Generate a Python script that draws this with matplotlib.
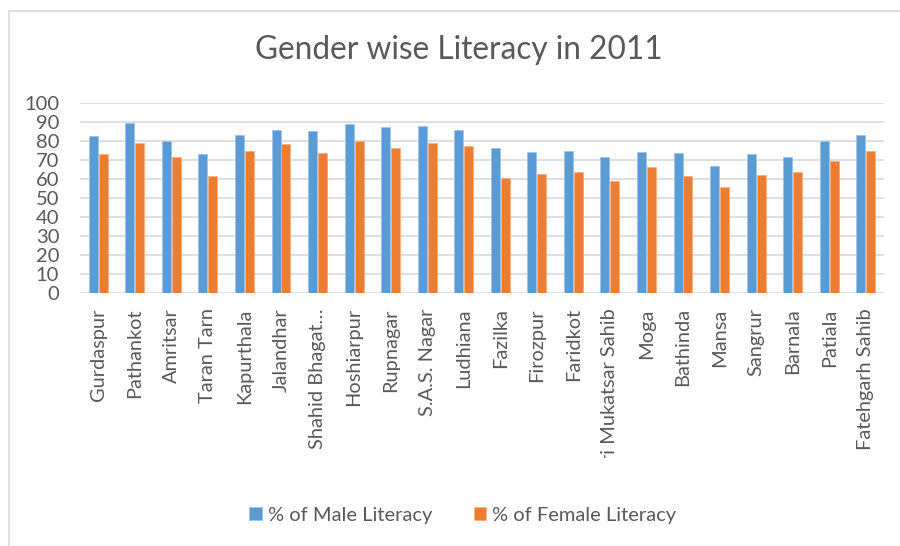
import matplotlib

matplotlib.use("Agg")

import matplotlib.pyplot as plt
import numpy as np
from matplotlib.patches import Rectangle
from matplotlib.transforms import Bbox, TransformedBbox

# Values
districts = ["Gurdaspur", "Pathankot", "Amritsar", "Taran Tarn", "Kapurthala",
             "Jalandhar", "Shahid Bhagat…", "Hoshiarpur", "Rupnagar", "S.A.S. Nagar",
             "Ludhiana", "Fazilka", "Firozpur", "Faridkot", "Sri Mukatsar Sahib",
             "Moga", "Bathinda", "Mansa", "Sangrur", "Barnala", "Patiala",
             "Fatehgarh Sahib"]
male = [82.4, 89.3, 80.1, 73.1, 83.1, 85.9, 85.4, 88.7, 87.5, 87.9, 85.9,
        76.2, 74.3, 74.6, 71.7, 74.3, 73.8, 67.1, 73.1, 71.5, 80.1, 83.1]
female = [72.9, 79.2, 71.8, 61.6, 74.6, 78.5, 73.8, 80.1, 76.4, 79.2, 77.6,
          60.6, 62.5, 63.7, 59.2, 66.4, 61.6, 55.6, 62.0, 63.6, 69.5, 74.6]

plt.rcParams['font.family'] = ['Lato', 'DejaVu Sans']
txt = '#595959'
grid = '#D9D9D9'

fig = plt.figure(figsize=(9, 5.46), dpi=100)
ax = fig.add_axes([80 / 900, 1 - 293 / 546, 804 / 900, 190 / 546])

x = np.arange(len(districts))
w = 0.245
ax.bar(x - 0.135, male, w, color='#5B9BD5', edgecolor='#9DC3E6', linewidth=0.6,
       label='% of Male Literacy', zorder=3)
ax.bar(x + 0.135, female, w, color='#ED7D31', edgecolor='#F4B183', linewidth=0.6,
       label='% of Female Literacy', zorder=3)

ax.set_xlim(-0.5, len(districts) - 0.5)
ax.set_ylim(0, 100)
ax.set_yticks(np.arange(0, 101, 10))
ax.grid(axis='y', color=grid, linewidth=1.2, zorder=0)
for s in ax.spines.values():
    s.set_visible(False)
ax.tick_params(axis='y', length=0, pad=15, labelsize=14.5, labelcolor=txt)
ax.tick_params(axis='x', length=0, pad=11, labelsize=14.4, labelcolor=txt)
ax.set_xticks(x)
ax.set_xticklabels(districts, rotation=90, va='top', ha='center')

# long labels are cut off at the bottom of the label area
clip = TransformedBbox(Bbox([[0, 88 / 546], [1, 1]]), fig.transFigure)
for lbl in ax.get_xticklabels():
    lbl.set_clip_box(clip)
    lbl.set_clip_on(True)

fig.text(459 / 900, 1 - 50 / 546, 'Gender wise Literacy in 2011', ha='center',
         va='center', fontsize=22.8, color=txt)

fig.legend(loc='center', bbox_to_anchor=(463 / 900, 1 - 515 / 546), ncol=2,
           frameon=False, fontsize=14.5, labelcolor=txt, handlelength=0.6,
           handleheight=0.6, handletextpad=0.3, columnspacing=2.1)

# chart border (runs off the right and bottom edges)
fig.patches.append(Rectangle((8.5 / 900, -0.5), 2, 0.5 + 1 - 11 / 546,
                             transform=fig.transFigure, fill=False,
                             edgecolor=grid, linewidth=1.2))

plt.savefig("out.png", dpi=100)
